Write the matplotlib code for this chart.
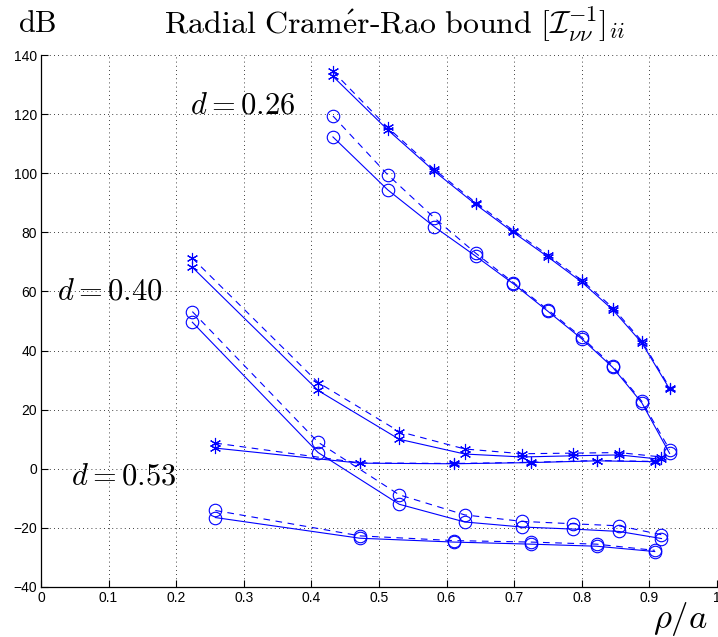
import matplotlib
matplotlib.use("Agg")
import matplotlib.pyplot as plt

plt.rcParams["mathtext.fontset"] = "cm"
plt.rcParams["font.family"] = ["Liberation Sans", "DejaVu Sans"]

# ── Data ──────────────────────────────────────────────────
# d = 0.26
x_026 = [0.432, 0.513, 0.582, 0.643, 0.699, 0.750, 0.800, 0.846, 0.889, 0.930]
star_026_dash = [134.5, 115.5, 101.3, 90.1, 80.6, 72.3, 63.8, 54.5, 43.2, 27.5]
star_026_solid = [132.8, 114.7, 100.7, 89.5, 80.0, 71.7, 63.2, 53.8, 42.6, 27.0]
circ_026_dash = [119.4, 99.5, 84.9, 73.0, 63.0, 53.8, 44.5, 34.8, 22.8, 6.5]
circ_026_solid = [112.3, 94.4, 81.9, 72.0, 62.6, 53.3, 44.0, 34.3, 22.3, 5.2]

# d = 0.40
x_040 = [0.224, 0.410, 0.530, 0.627, 0.712, 0.787, 0.855, 0.918]
star_040_dash = [71.3, 29.2, 12.6, 6.7, 5.1, 5.3, 5.5, 4.0]
star_040_solid = [68.2, 26.5, 10.0, 5.0, 4.0, 4.4, 4.7, 3.2]
circ_040_dash = [53.2, 9.0, -8.8, -15.6, -17.8, -18.6, -19.3, -22.3]
circ_040_solid = [49.6, 5.5, -12.0, -18.0, -19.7, -20.4, -21.2, -23.6]

# d = 0.53
x_053 = [0.258, 0.472, 0.611, 0.725, 0.822, 0.908]
star_053_dash = [8.7, 2.0, 1.8, 2.2, 2.8, 2.5]
star_053_solid = [7.0, 1.9, 1.7, 2.1, 2.7, 2.4]
circ_053_dash = [-14.1, -22.7, -24.3, -24.8, -25.5, -27.6]
circ_053_solid = [-16.5, -23.5, -24.8, -25.5, -26.2, -28.0]

xticks = [0, 0.1, 0.2, 0.3, 0.4, 0.5, 0.6, 0.7, 0.8, 0.9, 1]
xticklabels = ["0", "0.1", "0.2", "0.3", "0.4", "0.5", "0.6", "0.7", "0.8", "0.9", "1"]
yticks = [-40, -20, 0, 20, 40, 60, 80, 100, 120, 140]

BLUE = "#0000ff"
ASTER = (6, 2, 0)

fig = plt.figure(figsize=(7.18, 6.37), dpi=100)
ax = fig.add_axes([0.057, 0.0785, 0.9415, 0.835])

series = [
    (x_026, star_026_solid, star_026_dash, ASTER),
    (x_026, circ_026_solid, circ_026_dash, "o"),
    (x_040, star_040_solid, star_040_dash, ASTER),
    (x_040, circ_040_solid, circ_040_dash, "o"),
    (x_053, star_053_solid, star_053_dash, ASTER),
    (x_053, circ_053_solid, circ_053_dash, "o"),
]
for xs, ys_solid, ys_dash, mk in series:
    ms = 9 if mk == "o" else 8
    ax.plot(xs, ys_solid, "-", color=BLUE, lw=0.8, marker=mk, ms=ms,
            mfc="none", mec=BLUE, mew=0.8)
    ax.plot(xs, ys_dash, color=BLUE, lw=0.8, ls=(0, (6, 5)), marker=mk, ms=ms,
            mfc="none", mec=BLUE, mew=0.8)

ax.set_xlim(0, 1)
ax.set_ylim(-40, 140)
ax.set_xticks(xticks)
ax.set_xticklabels(xticklabels)
ax.set_yticks(yticks)
ax.set_yticklabels(["\u221240" if v == -40 else ("\u221220" if v == -20 else str(v))
                    for v in yticks])
ax.tick_params(direction="in", length=5, width=0.8, labelsize=10, pad=3)
ax.grid(True, color="black", ls=(0, (1, 4)), lw=0.6)

for side in ["top", "right"]:
    ax.spines[side].set_visible(False)
ax.spines["left"].set_linewidth(0.9)
ax.spines["bottom"].set_linewidth(0.9)
ax.set_axisbelow(True)

# ── Annotations ───────────────────────────────────────────
ax.text(0.299, 123, r"$d = 0.26$", fontsize=22, ha="center", va="center")
ax.text(0.102, 60, r"$d = 0.40$", fontsize=22, ha="center", va="center")
ax.text(0.123, -2.5, r"$d = 0.53$", fontsize=22, ha="center", va="center")

fig.text(0.052, 0.962, r"$\mathrm{dB}$", fontsize=22, ha="center", va="center")
fig.text(0.55, 0.962,
         r"$\mathrm{Radial\ Cram\'er\text{-}Rao\ bound}\ [\mathcal{I}^{-1}_{\nu\nu}]_{ii}$",
         fontsize=23, ha="center", va="center")
fig.text(0.947, 0.028, r"$\rho/a$", fontsize=25, ha="center", va="center")

fig.savefig("out.png", dpi=100)
